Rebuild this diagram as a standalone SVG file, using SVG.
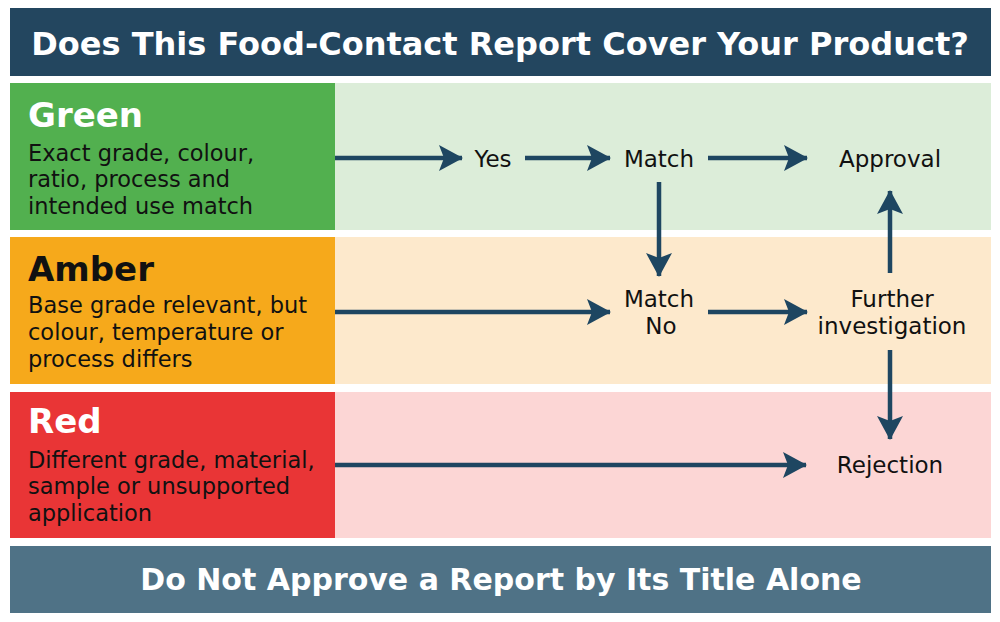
<svg xmlns="http://www.w3.org/2000/svg" width="1000" height="622" viewBox="0 0 1000 622">
<defs>
<style>
.t{font-family:"DejaVu Sans","Open Sans",sans-serif;}
.title{font-size:32px;font-weight:700;fill:#ffffff;}
.foot{font-size:30px;font-weight:700;fill:#ffffff;}
.head{font-size:34px;font-weight:700;}
.desc{font-size:22.5px;fill:#111111;}
.lbl{font-size:23px;fill:#111111;}
.con{stroke:#1e4661;stroke-width:4.5;fill:none;}
</style>
<marker id="ah" viewBox="0 0 24 26" refX="23" refY="13" markerWidth="24" markerHeight="26" markerUnits="userSpaceOnUse" orient="auto">
<path d="M0,0 L24,13 L0,26 L5,13 z" fill="#1e4661"/>
</marker>
</defs>
<rect width="1000" height="622" fill="#ffffff"/>
<g id="title">
<rect x="10" y="8" width="981" height="68" fill="#23465f"/>
<text class="t title" x="500" y="55" text-anchor="middle">Does This Food-Contact Report Cover Your Product?</text>
</g>
<g id="green-row">
<rect x="335" y="83" width="656" height="147" fill="#dcedd9"/>
<rect x="10" y="83" width="325" height="147" fill="#52b04f"/>
<text class="t head" x="28" y="127" fill="#ffffff">Green</text>
<text class="t desc" x="28" y="161">Exact grade, colour,</text>
<text class="t desc" x="28" y="187">ratio, process and</text>
<text class="t desc" x="28" y="214">intended use match</text>
</g>
<g id="amber-row">
<rect x="335" y="237" width="656" height="147" fill="#fde9cc"/>
<rect x="10" y="237" width="325" height="147" fill="#f6a91b"/>
<text class="t head" x="28" y="281" fill="#111111">Amber</text>
<text class="t desc" x="28" y="313">Base grade relevant, but</text>
<text class="t desc" x="28" y="340">colour, temperature or</text>
<text class="t desc" x="28" y="367">process differs</text>
</g>
<g id="red-row">
<rect x="335" y="392" width="656" height="146" fill="#fcd6d5"/>
<rect x="10" y="392" width="325" height="146" fill="#e93536"/>
<text class="t head" x="28" y="433" fill="#ffffff">Red</text>
<text class="t desc" x="28" y="468">Different grade, material,</text>
<text class="t desc" x="28" y="494">sample or unsupported</text>
<text class="t desc" x="28" y="521">application</text>
</g>
<g id="footer">
<rect x="10" y="546" width="981" height="67" fill="#4f7286"/>
<text class="t foot" x="501" y="590" text-anchor="middle">Do Not Approve a Report by Its Title Alone</text>
</g>
<g id="node-yes"><text class="t lbl" x="493" y="167" text-anchor="middle">Yes</text></g>
<g id="node-match"><text class="t lbl" x="659" y="167" text-anchor="middle">Match</text></g>
<g id="node-approval"><text class="t lbl" x="890" y="167" text-anchor="middle">Approval</text></g>
<g id="node-matchno"><text class="t lbl" x="659" y="307" text-anchor="middle">Match</text><text class="t lbl" x="661" y="334" text-anchor="middle">No</text></g>
<g id="node-further"><text class="t lbl" x="892" y="307" text-anchor="middle">Further</text><text class="t lbl" x="892" y="334" text-anchor="middle">investigation</text></g>
<g id="node-rejection"><text class="t lbl" x="890" y="473" text-anchor="middle">Rejection</text></g>
<g id="connectors">
<line class="con" x1="335" y1="158" x2="462" y2="158" marker-end="url(#ah)"/>
<line class="con" x1="525" y1="158" x2="610" y2="158" marker-end="url(#ah)"/>
<line class="con" x1="708" y1="158" x2="807" y2="158" marker-end="url(#ah)"/>
<line class="con" x1="659" y1="182" x2="659" y2="276" marker-end="url(#ah)"/>
<line class="con" x1="335" y1="312" x2="610" y2="312" marker-end="url(#ah)"/>
<line class="con" x1="708" y1="312" x2="807" y2="312" marker-end="url(#ah)"/>
<line class="con" x1="890" y1="273" x2="890" y2="191" marker-end="url(#ah)"/>
<line class="con" x1="890" y1="350" x2="890" y2="439" marker-end="url(#ah)"/>
<line class="con" x1="335" y1="465" x2="806" y2="465" marker-end="url(#ah)"/>
</g>
</svg>
